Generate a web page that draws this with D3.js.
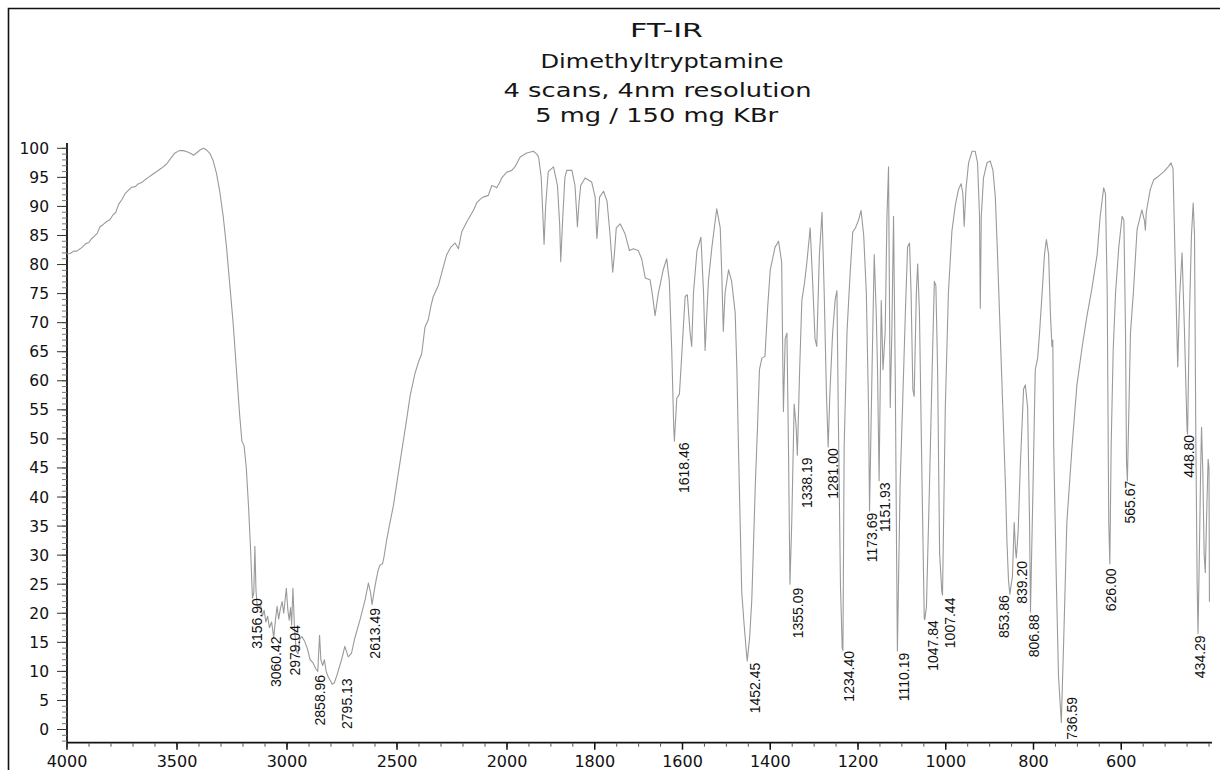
<!DOCTYPE html>
<html><head><meta charset="utf-8">
<script src="https://cdn.jsdelivr.net/npm/d3@7"></script>
<style>html,body{margin:0;padding:0;background:#fff;} svg{display:block;}</style>
</head><body>
<svg id="chart" width="1220" height="770"></svg>
<script>
// ---------- DATA ----------
const titleLines = ["FT-IR", "Dimethyltryptamine", "4 scans, 4nm resolution", "5 mg / 150 mg KBr"];
const titleWidths = [73, 243, 308, 243];

const xTickLabels = [4000, 3500, 3000, 2500, 2000, 1800, 1600, 1400, 1200, 1000, 800, 600];
const yTickLabels = [0, 5, 10, 15, 20, 25, 30, 35, 40, 45, 50, 55, 60, 65, 70, 75, 80, 85, 90, 95, 100];

// spectrum: wavenumber (cm-1) and %T
const spectrumWn = [
4000,3985,3970,3955,3945,3930,3915,3900,3890,3875,3862,3850,3835,3820,3805,3790,3778,3765,3750,3736,
3720,3706,3690,3675,3660,3645,3630,3612,3592,3570,3547,3528,3509,3490,3471,3455,3441,3425,3412,3395,
3380,3365,3350,3335,3320,3305,3290,3275,3260,3245,3230,3215,3205,3195,3185,3175,3165,3160,3156.9,3151,
3146,3141,3136,3128,3120,3112,3104,3096,3088,3080,3070,3060.4,3052,3045,3038,3030,3022,3015,3008,3003,
2996,2990,2984,2979,2973,2966,2958,2950,2942,2932,2920,2908,2895,2882,2870,2860,2852,2846,2838,2830,
2822,2812,2800,2795,2785,2770,2752,2737,2722,2707,2692,2668,2645,2630,2620,2613.5,2605,2595,2585,2577,
2566,2560,2547,2532,2517,2494,2480,2456,2440,2418,2400,2388,2373,2358,2345,2335,2312,2290,2274,2255,
2236,2228,2221,2206,2185,2168,2150,2138,2120,2108,2085,2069,2055,2047,2035,2024,2010,2001,1989,1982,
1970,1955,1940,1932,1928,1922,1918,1915.5,1912,1906,1894,1885,1880,1877.5,1873,1868,1864,1852,1845,1841,
1839.5,1836,1832,1822,1807,1799,1796,1795,1792,1789,1780,1772,1765,1759,1755,1751,1742,1731,1721,1712,
1701,1693,1685,1674,1668,1662.5,1655,1644,1636,1630,1624.5,1620,1618.5,1613,1607,1601.6,1594,1589,1583,1579,
1575,1567,1558,1552,1548.5,1541,1533,1522,1514,1510.5,1507,1503,1495,1488,1480,1476,1472.5,1468.6,1465,1460,
1455,1452.5,1447,1442,1434,1429,1424.6,1419,1412,1406,1400,1389,1381,1374,1370,1366,1362,1358.5,1355.1,1351,
1345.5,1341,1338.2,1333,1328,1322,1316.5,1309,1303,1298,1294,1288,1282,1277,1272,1268,1264,1258,1252,1248,
1245,1240,1236,1234.4,1231.5,1225,1218,1212,1206,1199,1193,1187,1181,1176,1173.7,1168,1163,1158.5,1155.5,1151.9,
1147,1143,1138,1134,1130.4,1126.6,1122.8,1119,1115,1112,1110.2,1104,1098,1092,1087,1082.5,1079,1075,1072,1067,
1064,1060,1054,1049,1047.8,1044,1037,1031,1026,1022.5,1018.6,1014,1009,1007.4,1001,994,986,978,971,965,
961,958,954,948,940,933,927.5,923,921.3,919,914,906,898.5,892.4,887,882,876,870,864,860.5,
857,853.9,848,844,841,839.2,835,830,822.6,818.7,813.4,809,806.9,801,796,790.5,786,780.4,775,770.6,
765.5,761.6,758,756,754,748,743,736.6,731,724,712,701,689,678,667,655,648,640,636,632,
628.5,626,623,618.4,613,605.6,598,594,590.3,588,586,579,572,564,553,547,545,543,534,526,
515,503,492,486.5,482,477,471.3,467,461.4,456,450,448.8,445,440,436,433,430,427,425,422,
419,417,414,411,408.5,405,402,400,399
];
const spectrumT = [
81.8,81.9,82.3,82.3,82.6,83.0,83.6,83.8,84.4,84.9,85.4,86.5,86.9,87.4,87.7,88.6,89.0,90.4,91.2,92.2,
92.8,93.3,93.4,93.9,94.1,94.6,95.0,95.5,96.0,96.6,97.3,98.3,99.2,99.6,99.6,99.4,99.2,98.8,99.2,99.7,
100.0,99.7,99.1,97.8,95.6,92.4,88.3,83.0,76.5,70.0,62.0,54.0,49.6,48.8,45.0,38.5,30.5,25.5,22.6,23.5,
31.5,24.0,21.5,21.0,21.5,19.5,20.5,18.5,19.5,17.5,18.5,15.8,19.0,21.2,19.0,20.8,22.0,20.0,22.5,24.3,
20.5,18.8,21.0,18.0,24.3,17.5,13.5,13.0,15.5,16.0,15.2,14.0,12.0,11.5,10.5,10.0,16.2,12.0,11.0,12.0,
10.0,9.0,8.2,7.8,8.0,9.7,12.0,14.3,12.5,13.1,15.7,18.9,22.3,25.2,23.5,21.5,23.5,25.7,27.5,28.3,
28.5,29.5,32.6,35.6,38.4,44.1,47.5,53.4,57.5,61.3,63.5,64.6,69.2,70.5,73.0,74.5,76.4,79.5,81.7,83.0,
83.7,83.2,82.7,85.6,87.2,88.3,89.5,90.6,91.3,91.6,91.9,93.6,93.4,93.2,94.0,94.9,95.5,95.9,96.2,96.8,
98.5,99.2,99.5,99.0,98.5,95.0,88.0,83.5,90.0,96.0,96.8,93.6,87.0,80.5,88.0,95.0,96.2,96.2,93.6,88.5,
86.5,90.5,93.6,94.9,94.2,91.6,85.5,84.5,88.0,91.6,92.6,90.9,85.0,78.7,82.0,86.3,87.0,85.3,82.4,82.7,
82.4,81.0,77.7,77.4,74.5,71.2,75.1,79.1,81.0,77.1,65.2,52.0,49.6,57.0,57.7,64.6,74.5,74.8,68.5,65.9,
75.1,82.4,84.7,75.1,65.2,77.1,83.0,89.6,86.3,78.4,68.5,75.1,79.1,77.1,71.8,61.9,48.8,35.6,23.7,18.5,
13.8,11.8,15.8,22.4,42.2,52.1,61.9,63.9,64.2,72.5,79.1,83.0,84.0,80.4,54.7,67.2,68.2,48.8,25.0,35.6,
56.0,52.1,47.2,61.9,73.8,76.8,80.4,86.3,76.4,67.2,65.9,81.7,89.0,75.0,58.0,48.6,58.0,68.0,74.0,75.5,
55.0,25.0,14.0,13.6,48.8,68.5,78.4,85.6,86.3,87.6,89.3,85.0,75.1,55.4,37.6,61.9,81.7,71.8,61.9,42.8,
73.8,61.9,68.5,88.3,96.8,55.4,68.5,88.3,60.0,30.0,13.5,42.2,56.7,71.8,83.0,83.7,75.1,58.5,57.3,75.1,
80.1,71.8,42.2,19.1,18.9,21.1,42.2,61.9,77.1,76.4,61.9,30.3,23.7,23.1,55.4,75.1,85.7,90.3,92.9,93.9,
92.2,86.6,92.9,97.5,99.5,99.5,97.5,88.3,72.5,88.3,94.9,97.5,97.8,96.2,91.6,81.7,68.5,55.4,42.2,32.3,
25.7,23.3,26.4,35.6,31.0,29.5,34.0,45.5,58.6,59.3,55.4,35.6,20.2,42.2,61.9,63.9,68.5,75.1,81.7,84.3,
81.7,71.8,65.9,67.0,48.8,25.7,9.2,1.2,15.8,35.6,48.8,59.3,65.9,71.2,75.8,81.7,88.3,93.2,92.2,75.1,
35.6,28.5,48.8,65.2,75.1,83.0,88.3,87.6,68.5,46.0,42.8,68.2,75.6,86.0,89.4,87.5,85.9,89.0,92.9,94.6,
95.2,96.0,96.9,97.5,96.5,80.2,62.4,74.5,82.0,68.8,51.5,50.8,70.0,85.0,90.6,85.0,50.0,25.0,16.5,30.0,
45.0,52.0,44.0,30.0,27.0,38.0,46.5,45.0,22.0
];

// peak annotations: printed text, label centre (cm-1), label top (%T)
const peakText = ["3156.90","3060.42","2979.04","2858.96","2795.13","2613.49","1618.46","1452.45","1355.09","1338.19",
  "1281.00","1234.40","1173.69","1151.93","1110.19","1047.84","1007.44","853.86","839.20","806.88",
  "736.59","626.00","565.67","448.80","434.29"];
const peakLabelWn = [3136.4,3050,2963.6,2850,2728.6,2600,1596.4,1434.4,1335.7,1316.5,
  1255.9,1220.1,1168.3,1138,1094.6,1029.6,989.7,868.2,826.2,799.8,
  711.5,622.6,579.2,444.7,419.6];
const peakLabelT = [22.6,16.0,18.0,9.4,8.8,20.9,49.4,11.5,24.4,46.8,
  48.4,13.5,37.3,42.5,13.2,18.8,22.7,23.1,29.0,19.8,
  5.6,27.7,42.8,50.7,16.2];

// ---------- CHART ----------
const svg = d3.select("#chart");
svg.append("rect").attr("width",1220).attr("height",770).attr("fill","#fff");
// frame (left and top edges visible)
svg.append("path").attr("d","M8.5,775 L8.5,8.5 L1225,8.5")
  .attr("fill","none").attr("stroke","#111").attr("stroke-width",1.6);

const x = d3.scaleLinear().domain([4000, 2000, 400]).range([67, 507, 1209]);
const y = d3.scaleLinear().domain([0, 100]).range([729.5, 148.3]);

// title
const tBase = [36.7, 68.3, 96.7, 121.7];
const tCenter = [666.5, 662, 657.5, 656.7];
svg.append("g").selectAll("text").data(titleLines).join("text")
  .attr("x", (d,i) => tCenter[i]).attr("y", (d,i) => tBase[i])
  .attr("text-anchor","middle")
  .attr("textLength", (d,i) => titleWidths[i])
  .attr("lengthAdjust","spacingAndGlyphs")
  .attr("font-family","DejaVu Sans, sans-serif").attr("font-size",19)
  .attr("fill","#151515").text(d => d);

// x axis
const xAxisY = 742.7;
const gx = svg.append("g");
gx.append("line").attr("x1", x(4000)).attr("x2", 1212).attr("y1", xAxisY).attr("y2", xAxisY)
  .attr("stroke","#111").attr("stroke-width",1.8);
const xMinor = d3.range(4000, 2000, -100).concat(d3.range(2000, 399, -50));
gx.selectAll("line.minor").data(xMinor).join("line").attr("class","minor")
  .attr("x1", d => x(d)).attr("x2", d => x(d)).attr("y1", xAxisY).attr("y2", xAxisY + 4)
  .attr("stroke","#555").attr("stroke-width",1);
gx.selectAll("line.major").data(xTickLabels).join("line").attr("class","major")
  .attr("x1", d => x(d)).attr("x2", d => x(d)).attr("y1", xAxisY).attr("y2", xAxisY + 7)
  .attr("stroke","#111").attr("stroke-width",1.5);
gx.selectAll("text").data(xTickLabels).join("text")
  .attr("x", d => x(d)).attr("y", 766.5).attr("text-anchor","middle")
  .attr("font-family","DejaVu Sans, sans-serif").attr("font-size",16).attr("fill","#111")
  .text(d => d);

// y axis
const gy = svg.append("g");
gy.append("line").attr("x1", 67).attr("x2", 67).attr("y1", y(100.9)).attr("y2", xAxisY)
  .attr("stroke","#111").attr("stroke-width",1.8);
const yMinor = d3.range(-2, 101, 1);
gy.selectAll("line.minor").data(yMinor).join("line").attr("class","minor")
  .attr("x1", 62).attr("x2", 67).attr("y1", d => y(d)).attr("y2", d => y(d))
  .attr("stroke","#777").attr("stroke-width",1);
gy.selectAll("line.major").data(yTickLabels).join("line").attr("class","major")
  .attr("x1", 57).attr("x2", 67).attr("y1", d => y(d)).attr("y2", d => y(d))
  .attr("stroke","#333").attr("stroke-width",1);
gy.selectAll("text").data(yTickLabels).join("text")
  .attr("x", 49).attr("y", d => y(d) + 5.5).attr("text-anchor","end")
  .attr("font-family","DejaVu Sans, sans-serif").attr("font-size",15.5).attr("fill","#111")
  .text(d => d);

// spectrum
const pts = spectrumWn.map((w,i) => [w, spectrumT[i]]);
svg.append("path").datum(pts)
  .attr("d", d3.line().x(d => x(d[0])).y(d => y(d[1])))
  .attr("fill","none").attr("stroke","#9a9a9a").attr("stroke-width",1.1)
  .attr("stroke-linejoin","round");

// peak labels
svg.append("g").selectAll("text").data(peakText).join("text")
  .attr("transform", (d,i) => `translate(${x(peakLabelWn[i]) + 5},${y(peakLabelT[i])}) rotate(-90)`)
  .attr("text-anchor","end")
  .attr("font-family","Liberation Sans, Arial, sans-serif").attr("font-size",14).attr("fill","#111")
  .text(d => d);
</script>
</body></html>
